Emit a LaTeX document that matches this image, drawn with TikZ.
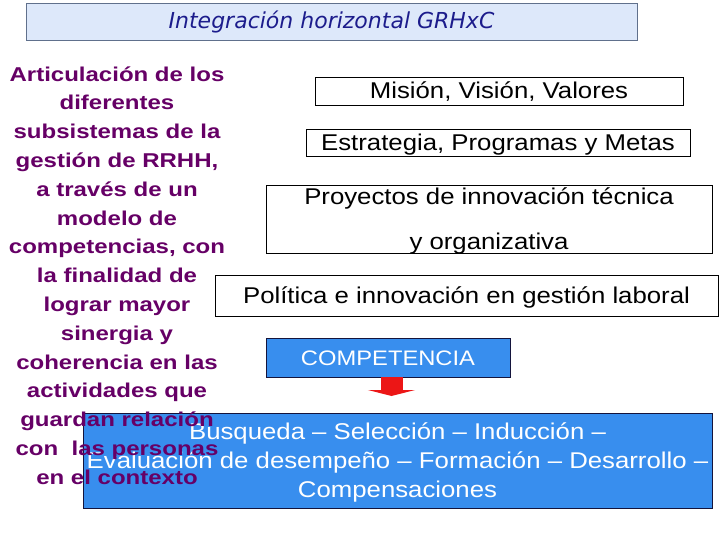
\documentclass[tikz,border=0pt]{standalone}
\usepackage{fontspec}
\setmainfont[FakeStretch=1.2]{Liberation Sans}
\newfontfamily\boxfont[FakeStretch=1.13]{Liberation Sans}
\newfontfamily\titlefont{DejaVu Sans}
\usepackage{xcolor}
\usetikzlibrary{arrows.meta}
\definecolor{titlefill}{RGB}{221,232,250}
\definecolor{titleline}{RGB}{96,112,140}
\definecolor{titleink}{RGB}{28,28,140}
\definecolor{plum}{RGB}{102,0,102}
\definecolor{compblue}{RGB}{56,142,238}
\definecolor{boxline}{RGB}{20,20,60}
\definecolor{arrowred}{RGB}{236,22,22}
\tikzset{
  framebox/.style={draw=black, line width=0.8pt, inner sep=0pt, text height=16pt, text depth=0pt, font=\boxfont\fontsize{22.8}{26}\selectfont},
  bluebox/.style={draw=boxline, fill=compblue, text=white, inner sep=0pt, line width=0.8pt, text height=16pt, text depth=0pt, font=\boxfont\fontsize{22.8}{29}\selectfont},
}
\begin{document}
\begin{tikzpicture}[x=1pt, y=-1pt]
        \useasboundingbox (0,0) rectangle (720,540);
        \node[draw=titleline, fill=titlefill, minimum width=611pt, minimum height=37pt, inner sep=0pt, text=titleink, font=\titlefont\itshape\fontsize{22}{26}\selectfont] (titulo) at (331.5,21.5) {Integración horizontal GRHxC};

        \node[framebox, minimum width=368pt, minimum height=28pt] (mision) at (499,91) {Misión, Visión, Valores};
        \node[framebox, minimum width=384pt, minimum height=27pt] (estrategia) at (498,142.5) {Estrategia, Programas y Metas};
        \node[framebox, minimum width=446pt, minimum height=68pt, align=center, text height=60pt, font=\boxfont\fontsize{22.8}{44}\selectfont] (proyectos) at (489,219) {Proyectos de innovación técnica\\y organizativa};
        \node[framebox, minimum width=503pt, minimum height=41pt] (politica) at (466.5,295.5) {Política e innovación en gestión laboral};

        \node[bluebox, minimum width=244pt, minimum height=39pt, text height=15pt, font=\boxfont\fontsize{21}{26}\selectfont] (competencia) at (388,357.5) {COMPETENCIA};
        \node[bluebox, minimum width=629pt, minimum height=95pt, align=center, text height=74pt] (procesos) at (397.5,460.5) {Busqueda – Selección – Inducción –\\Evaluación de desempeño – Formación – Desarrollo –\\Compensaciones};

        \coordinate (flecha) at (391.5,396);
        \draw[arrowred, line width=22pt, -{Triangle[width=47pt,length=6pt]}] (flecha |- competencia.south) -- (flecha);

        \node[text=plum, align=center, text height=417.5pt, text depth=0pt, font=\bfseries\fontsize{20}{28.8}\selectfont] (articulacion) at (117,275.5) {Articulación de los\\diferentes\\subsistemas de la\\gestión de RRHH,\\a través de un\\modelo de\\competencias, con\\la finalidad de\\lograr mayor\\sinergia y\\coherencia en las\\actividades que\\guardan relación\\con~ las personas\\en el contexto};
\end{tikzpicture}
\end{document}
